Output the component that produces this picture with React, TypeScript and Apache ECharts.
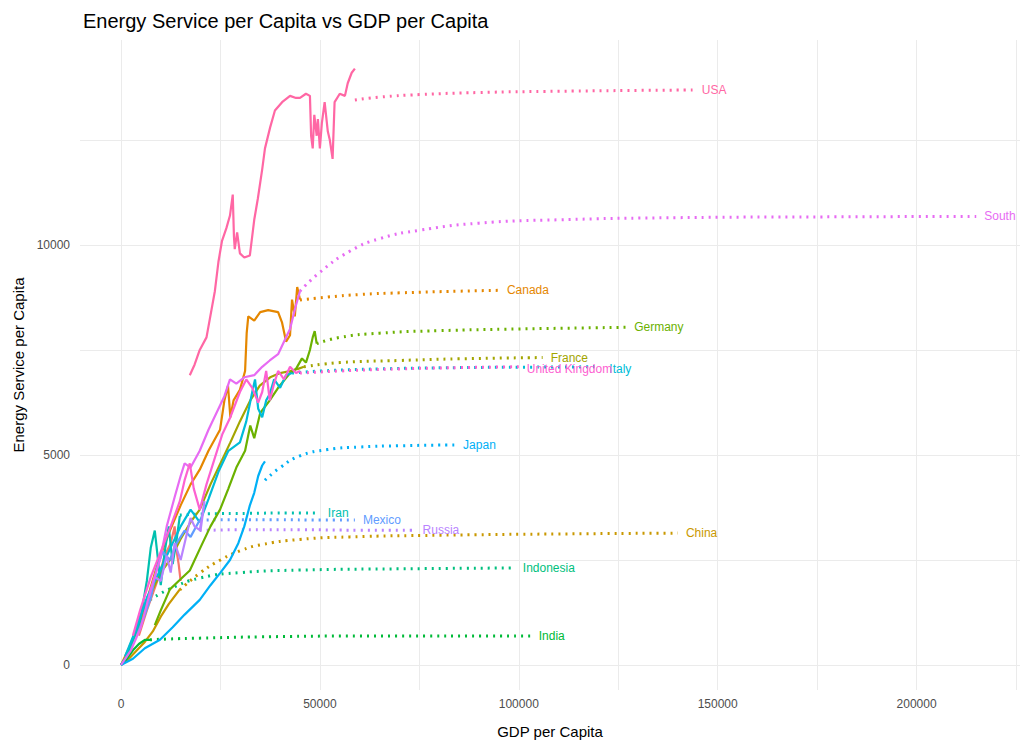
import React, { useEffect, useRef } from 'react';
import * as echarts from 'echarts';

// [gdp per capita, energy service per capita]
const countries = ['Brazil', 'Canada', 'China', 'France', 'Germany', 'India', 'Indonesia', 'Iran', 'Italy', 'Japan', 'Mexico', 'Russia', 'South', 'United Kingdom', 'USA'];
const colors = ['#F8766D', '#E58700', '#C99800', '#A3A500', '#6BB100', '#00BA38', '#00BF7D', '#00C0AF', '#00BCD8', '#00B0F6', '#619CFF', '#B983FF', '#E76BF3', '#FD61D1', '#FF67A4'];

const history: Record<string, number[][]> = {
    Brazil: [[4500, 700], [6500, 1300], [8000, 1700], [9500, 2100], [11000, 2600], [12500, 2900], [13500, 3300], [14000, 2700], [14500, 2400], [15000, 2000]],
    Canada: [[0, 0], [2000, 400], [4800, 1050], [7000, 1700], [9500, 2500], [12300, 3200], [15000, 3800], [17500, 4300], [19800, 4650], [22000, 5100], [24900, 5600], [26000, 6300], [26900, 6650], [27500, 5900], [28300, 6300], [29900, 6550], [31200, 7000], [31600, 7900], [32000, 8300], [33500, 8200], [35000, 8400], [37000, 8450], [39500, 8400], [40500, 8150], [41500, 7700], [42500, 7850], [43000, 8700], [43700, 8300], [44300, 9000], [45000, 8700]],
    China: [[0, 0], [2000, 150], [4000, 350], [6000, 550], [8000, 800], [10000, 1150], [12000, 1450], [14800, 1800]],
    France: [[2000, 400], [5000, 1000], [8000, 1800], [10000, 2200], [12300, 2500], [15000, 3000], [17500, 3400], [19800, 3700], [22500, 4300], [25000, 4800], [27500, 5300], [29900, 5800], [32500, 6300], [34900, 6650], [37500, 6850], [40000, 6950], [42500, 7000], [44500, 7050], [46000, 7100]],
    Germany: [[8500, 950], [10000, 1300], [12300, 1800], [14500, 2000], [17300, 2250], [20000, 2800], [22500, 3300], [24900, 3700], [27000, 4200], [29000, 4700], [31200, 5100], [32500, 5700], [33500, 5400], [35000, 6000], [37400, 6300], [39500, 6600], [42500, 6950], [44000, 7050], [45500, 7300], [46500, 7200], [47500, 7500], [48200, 7800], [48700, 7950], [49200, 7650]],
    India: [[0, 0], [1500, 150], [3000, 350], [4500, 500], [6000, 600], [7300, 600]],
    Indonesia: [[0, 0], [1500, 200], [3000, 600], [4500, 1100], [6000, 1400], [7300, 1550]],
    Iran: [[0, 0], [2000, 300], [4800, 1050], [6500, 2000], [7500, 2800], [8500, 3200], [9200, 2600], [10000, 1900], [11000, 2700], [12000, 3300], [13000, 2400], [14000, 3000], [14800, 3550]],
    Italy: [[1000, 200], [4000, 900], [6500, 1600], [9800, 2250], [12500, 2800], [15000, 3300], [17500, 3700], [19800, 3400], [22000, 3950], [24500, 4600], [27000, 5100], [29900, 5300], [31500, 5800], [33000, 6500], [33700, 6800], [34500, 6100], [35500, 5900], [36500, 6300], [37400, 6450], [38500, 6800], [40000, 6600], [41500, 6900], [43000, 6950]],
    Japan: [[0, 0], [3000, 150], [6000, 400], [9800, 600], [13000, 900], [16000, 1200], [19800, 1550], [22500, 1900], [25000, 2200], [27400, 2500], [29500, 2900], [31000, 3300], [32400, 3800], [33500, 4100], [34500, 4500], [35500, 4750], [36200, 4850]],
    Mexico: [[4000, 700], [6000, 1200], [7500, 1600], [9000, 2300], [10500, 2700], [12300, 2500], [14000, 2900], [16000, 3200], [17500, 3050], [19800, 3450]],
    Russia: [[7000, 1600], [8500, 2100], [10000, 2000], [11500, 2600], [12500, 2200], [13500, 2900], [15000, 2500], [16500, 3100], [17500, 3500], [18500, 3300], [20000, 3200], [21000, 3900], [19800, 3200]],
    South: [[0, 0], [2500, 350], [5000, 900], [7500, 1800], [9800, 2500], [11500, 3300], [13500, 4000], [15000, 4500], [16000, 4800], [17500, 4700], [19800, 5100], [22000, 5600], [24000, 6000], [26000, 6400], [27400, 6800], [29000, 6700], [31000, 6850], [33500, 6900], [35500, 7100], [37400, 7250], [39500, 7400], [41000, 7700], [42500, 8000], [43800, 8500], [45000, 8900]],
    'United Kingdom': [[3000, 700], [4800, 1300], [7500, 2100], [10000, 2700], [12500, 3300], [14800, 3900], [16000, 4400], [17300, 4800], [18300, 4200], [19800, 3700], [21500, 4300], [23500, 4900], [25500, 5500], [27500, 5900], [29900, 6500], [31500, 6800], [33000, 6600], [34500, 6250], [35500, 6500], [36500, 7000], [37400, 6300], [38500, 6700], [39500, 7000], [41000, 6800], [42500, 7100], [44000, 6950], [45000, 7000]],
    USA: [[17300, 6900], [18500, 7150], [19800, 7500], [21500, 7800], [23600, 8900], [24500, 9600], [25400, 10100], [26500, 10400], [27400, 10700], [28100, 11200], [28400, 10200], [28600, 9900], [29200, 10300], [29900, 9800], [31000, 9700], [32400, 9750], [33500, 10600], [34400, 11100], [35500, 11800], [36200, 12300], [37500, 12800], [38700, 13200], [40500, 13400], [42500, 13550], [44000, 13500], [45000, 13500], [46500, 13600], [47500, 13550], [47800, 12600], [48200, 12300], [48600, 13100], [49200, 12600], [49500, 13000], [50000, 12300], [50500, 12900], [51200, 13400], [52000, 12700], [52500, 12500], [53200, 12050], [53700, 13400], [55000, 13600], [56300, 13550], [57000, 13850], [58000, 14100], [58800, 14200]],
};

const projection: Record<string, number[][]> = {
    Canada: [[45000, 8690], [52000, 8760], [60000, 8820], [70000, 8860], [85000, 8900], [95000, 8920]],
    China: [[14800, 1790], [20000, 2200], [25000, 2500], [30000, 2720], [35000, 2860], [45000, 2990], [57500, 3050], [80000, 3090], [110000, 3120], [140000, 3140]],
    France: [[46000, 7100], [55000, 7200], [70000, 7250], [85000, 7290], [106000, 7320]],
    Germany: [[49200, 7650], [55000, 7800], [65000, 7900], [80000, 7960], [100000, 8000], [127000, 8040]],
    India: [[7300, 600], [12000, 620], [19800, 640], [35000, 670], [60000, 690], [103000, 690]],
    Indonesia: [[7300, 1550], [12000, 1800], [19800, 2070], [30000, 2200], [45000, 2260], [70000, 2290], [99000, 2310]],
    Iran: [[14800, 3570], [22000, 3600], [32000, 3610], [42000, 3620], [50000, 3620]],
    Italy: [[43000, 6950], [50000, 7000], [65000, 7050], [85000, 7080], [100000, 7090], [120000, 7100]],
    Japan: [[36200, 4400], [40000, 4700], [45000, 4980], [52000, 5130], [60000, 5190], [70000, 5220], [84000, 5240]],
    Mexico: [[19800, 3450], [28000, 3460], [40000, 3460], [50000, 3450], [58800, 3450]],
    Russia: [[19800, 3200], [30000, 3220], [45000, 3220], [60000, 3210], [73800, 3210]],
    South: [[45000, 8900], [50000, 9350], [57500, 9850], [65000, 10150], [75000, 10350], [90000, 10520], [110000, 10600], [140000, 10650], [180000, 10670], [215000, 10680]],
    'United Kingdom': [[45000, 6950], [55000, 7000], [70000, 7050], [85000, 7080], [100000, 7100]],
    USA: [[58800, 13450], [65000, 13520], [75000, 13580], [90000, 13630], [110000, 13660], [130000, 13680], [144000, 13690]],
};

const xTicks = [0, 50000, 100000, 150000, 200000];
const xGrid = [0, 25000, 50000, 75000, 100000, 125000, 150000, 175000, 200000, 225000];
const yTicks = [0, 5000, 10000];
const yGrid = [0, 2500, 5000, 7500, 10000, 12500];

const App: React.FC = () => {
    const chartRef = useRef<HTMLDivElement>(null);

    useEffect(() => {
        if (!chartRef.current) return;
        const chart = echarts.init(chartRef.current, null, { renderer: 'svg' });
        const series: any[] = [];
        countries.forEach((c, i) => {
            series.push({
                name: c, type: 'line', data: history[c], showSymbol: false, z: 3,
                lineStyle: { color: colors[i], width: 2.2 },
            });
        });
        countries.forEach((c, i) => {
            if (!projection[c]) return;
            series.push({
                name: c, type: 'line', data: projection[c], showSymbol: false, smooth: true, z: 2,
                lineStyle: { color: colors[i], width: 3, type: [2, 5] },
                endLabel: { show: true, formatter: c, color: colors[i], fontSize: 12, offset: c === 'Italy' ? [3, 2] : c === 'United Kingdom' ? [0, 2] : [0, 0] },
            });
        });
        const axisText = { color: '#4D4D4D', fontSize: 12, fontFamily: 'Liberation Sans, Arial', formatter: (v: number) => String(v) };
        chart.setOption({
            animation: false,
            textStyle: { fontFamily: 'Liberation Sans, Arial' },
            title: { text: 'Energy Service per Capita vs GDP per Capita', left: 78, top: 6, textStyle: { fontSize: 20, fontWeight: 'normal', color: '#000' } },
            grid: { left: 80, right: 11, top: 40, bottom: 60 },
            xAxis: {
                type: 'value', min: -10300, max: 226000,
                name: 'GDP per Capita', nameLocation: 'middle', nameGap: 34,
                nameTextStyle: { fontSize: 15, color: '#000' },
                axisLine: { show: false },
                axisTick: { show: false, customValues: xGrid },
                axisLabel: { ...axisText, customValues: xTicks },
                splitLine: { show: true, lineStyle: { color: '#EBEBEB', width: 1 } },
            },
            yAxis: {
                type: 'value', min: -595, max: 14880,
                name: 'Energy Service per Capita', nameLocation: 'middle', nameGap: 54,
                nameTextStyle: { fontSize: 15, color: '#000' },
                axisLine: { show: false },
                axisTick: { show: false, customValues: yGrid },
                axisLabel: { ...axisText, customValues: yTicks, margin: 10 },
                splitLine: { show: true, lineStyle: { color: '#EBEBEB', width: 1 } },
            },
            series,
        });
        return () => chart.dispose();
    }, []);

    return <div ref={chartRef} style={{ position: 'fixed', left: 0, top: 0, width: 1031, height: 750, background: '#fff' }} />;
};

export default App;
